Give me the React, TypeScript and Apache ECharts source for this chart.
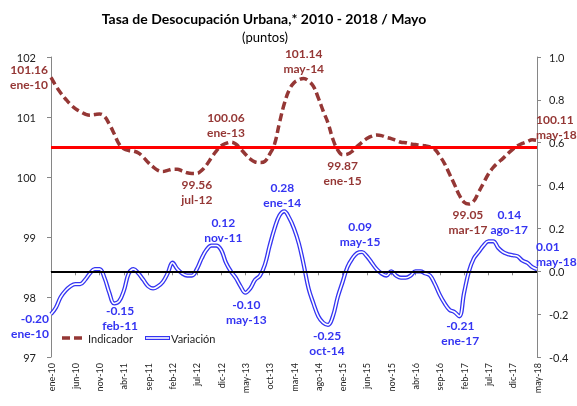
import React, { useEffect, useRef } from 'react';
import * as echarts from 'echarts';

const MONTHS = ['ene', 'feb', 'mar', 'abr', 'may', 'jun', 'jul', 'ago', 'sep', 'oct', 'nov', 'dic'];
const categories: string[] = [];
for (let y = 10; y <= 18; y++) {
  for (let m = 0; m < 12; m++) {
    if (y === 18 && m > 4) break;
    categories.push(`${MONTHS[m]}-${y}`);
  }
}

const indicador = [
  101.16, 101.02, 100.9, 100.8, 100.71, 100.64, 100.59, 100.55, 100.53, 100.54,
  100.55, 100.51, 100.38, 100.22, 100.05, 99.97, 99.94, 99.93, 99.9, 99.83,
  99.74, 99.67, 99.61, 99.59, 99.61, 99.63, 99.63, 99.6, 99.57, 99.56,
  99.56, 99.61, 99.7, 99.82, 99.93, 100.02, 100.06, 100.08, 100.05, 99.97,
  99.88, 99.8, 99.75, 99.74, 99.76, 99.88, 100.05, 100.4, 100.72, 100.95,
  101.07, 101.12, 101.14, 101.1, 101.01, 100.82, 100.6, 100.4, 100.13, 99.95,
  99.87, 99.88, 99.93, 100.01, 100.08, 100.14, 100.18, 100.2, 100.19, 100.16,
  100.14, 100.11, 100.08, 100.07, 100.05, 100.04, 100.03, 100.02, 100.0, 99.96,
  99.85, 99.72, 99.55, 99.38, 99.2, 99.08, 99.05, 99.1, 99.25, 99.4,
  99.55, 99.66, 99.74, 99.81, 99.89, 99.96, 100.02, 100.06, 100.09, 100.12,
  100.11,
];

const variacion = [
  -0.2, -0.17, -0.12, -0.09, -0.07, -0.06, -0.06, -0.04, -0.01, 0.01,
  0.01, -0.03, -0.1, -0.15, -0.14, -0.09, -0.01, 0.01, -0.01, -0.04,
  -0.07, -0.08, -0.07, -0.05, -0.01, 0.04, 0.01, -0.01, -0.02, -0.02,
  0.01, 0.06, 0.1, 0.12, 0.12, 0.1, 0.04, 0.0, -0.03, -0.07,
  -0.1, -0.08, -0.04, -0.02, 0.03, 0.12, 0.2, 0.26, 0.28, 0.25,
  0.2, 0.13, 0.03, -0.08, -0.15, -0.21, -0.24, -0.25, -0.21, -0.12,
  -0.05, 0.02, 0.06, 0.085, 0.09, 0.07, 0.04, 0.01, -0.01, -0.02,
  0.0, -0.02, -0.03, -0.03, -0.02, 0.0, 0.0, -0.01, -0.02, -0.06,
  -0.11, -0.15, -0.18, -0.19, -0.21, -0.1, 0.0, 0.06, 0.09, 0.12,
  0.14, 0.14, 0.11, 0.09, 0.08, 0.075, 0.07, 0.05, 0.04, 0.02,
  0.01,
];

const referenceIndicador = 100;
const referenceVariacion = 0;

// annotated points: [category of the point, month text shown]
const indicadorNotes: [string, string][] = [
  ['ene-10', 'ene-10'],
  ['jul-12', 'jul-12'],
  ['ene-13', 'ene-13'],
  ['may-14', 'may-14'],
  ['ene-15', 'ene-15'],
  ['mar-17', 'mar-17'],
  ['may-18', 'may-18'],
];
const variacionNotes: [string, string][] = [
  ['ene-10', 'ene-10'],
  ['feb-11', 'feb-11'],
  ['nov-12', 'nov-11'],
  ['may-13', 'may-13'],
  ['ene-14', 'ene-14'],
  ['oct-14', 'oct-14'],
  ['may-15', 'may-15'],
  ['ene-17', 'ene-17'],
  ['ago-17', 'ago-17'],
  ['may-18', 'may-18'],
];

const FONT = 'Lato, "Noto Sans", sans-serif';
const RED = '#953735';
const BLUE = '#3434f2';

type Place = { position: string; distance: number; offset: [number, number] };
const indicadorPlace: Record<string, Place> = {
  'ene-10': { position: 'left', distance: 2, offset: [0, 0] },
  'jul-12': { position: 'bottom', distance: 3, offset: [0, 0] },
  'ene-13': { position: 'top', distance: 2, offset: [0, 0] },
  'may-14': { position: 'top', distance: 2, offset: [0, 0] },
  'ene-15': { position: 'bottom', distance: 2, offset: [0, 0] },
  'mar-17': { position: 'bottom', distance: 2, offset: [-1, 0] },
  'may-18': { position: 'right', distance: -2, offset: [0, -13] },
};
const variacionPlace: Record<string, Place> = {
  'ene-10': { position: 'left', distance: 1, offset: [0, 12] },
  'feb-11': { position: 'bottom', distance: 0, offset: [6, -1] },
  'nov-12': { position: 'top', distance: 0, offset: [7, 0] },
  'may-13': { position: 'bottom', distance: 3, offset: [1, 0] },
  'ene-14': { position: 'top', distance: 0, offset: [-2, 0] },
  'oct-14': { position: 'bottom', distance: 2, offset: [-1, 0] },
  'may-15': { position: 'top', distance: 2, offset: [-2, 0] },
  'ene-17': { position: 'bottom', distance: 1, offset: [1, 0] },
  'ago-17': { position: 'top', distance: 3, offset: [16, 0] },
  'may-18': { position: 'right', distance: -2, offset: [0, -15] },
};

function buildData(values: number[], notes: [string, string][], place: Record<string, Place>, color: string) {
  return values.map((v, i) => {
    const cat = categories[i];
    const note = notes.find((n) => n[0] === cat);
    if (!note) return v;
    const p = place[cat];
    return {
      value: v,
      label: {
        show: true,
        position: p.position,
        distance: p.distance,
        offset: p.offset,
        formatter: `${v.toFixed(2)}\n${note[1]}`,
        color,
        fontFamily: FONT,
        fontWeight: 'bold',
        fontSize: 12,
        lineHeight: 15,
        align: p.position === 'left' ? 'right' : p.position === 'right' ? 'left' : 'center',
      },
    };
  });
}

export default function App() {
  const ref = useRef<HTMLDivElement>(null);
  useEffect(() => {
    if (!ref.current) return;
    const chart = echarts.init(ref.current, undefined, { renderer: 'svg' });
    const axisGray = '#868686';
    chart.setOption({
      animation: false,
      grid: { left: 51, right: 40, top: 57, bottom: 49, containLabel: false },
      graphic: [
        {
          type: 'text', x: 264, y: 18,
          style: { text: 'Tasa de Desocupación Urbana,* 2010 - 2018 / Mayo', font: `bold 14px ${FONT}`, fill: '#000', textAlign: 'center', textVerticalAlign: 'middle' },
        },
        {
          type: 'text', x: 265, y: 37,
          style: { text: '(puntos)', font: `13px ${FONT}`, fill: '#000', textAlign: 'center', textVerticalAlign: 'middle' },
        },
        { type: 'line', shape: { x1: 62, y1: 338, x2: 86, y2: 338 }, style: { stroke: RED, lineWidth: 3.5, lineDash: [8, 4] }, z: 10 },
        { type: 'text', x: 88, y: 338, style: { text: 'Indicador', font: `11px ${FONT}`, fill: '#222', textVerticalAlign: 'middle' }, z: 10 },
        { type: 'line', shape: { x1: 145, y1: 338, x2: 170, y2: 338 }, style: { stroke: BLUE, lineWidth: 4 }, z: 10 },
        { type: 'line', shape: { x1: 146, y1: 338, x2: 169, y2: 338 }, style: { stroke: '#fff', lineWidth: 1.6 }, z: 11 },
        { type: 'text', x: 171, y: 338, style: { text: 'Variación', font: `11px ${FONT}`, fill: '#222', textVerticalAlign: 'middle' }, z: 10 },
      ],
      xAxis: {
        type: 'category',
        data: categories,
        boundaryGap: false,
        axisLine: { lineStyle: { color: axisGray, width: 1 } },
        axisTick: { show: true, interval: 4, length: 4, lineStyle: { color: axisGray } },
        axisLabel: { interval: 4, rotate: 90, fontSize: 9, fontFamily: FONT, color: '#222', margin: 6 },
        splitLine: { show: false },
      },
      yAxis: [
        {
          type: 'value', min: 97, max: 102, interval: 1, position: 'left',
          axisLine: { show: true, lineStyle: { color: axisGray } },
          axisTick: { show: true, length: 4, lineStyle: { color: axisGray } },
          axisLabel: { fontSize: 11, fontFamily: FONT, color: '#222', margin: 15 },
          splitLine: { show: false },
        },
        {
          type: 'value', min: -0.4, max: 1.0, interval: 0.2, position: 'right',
          axisLine: { show: true, lineStyle: { color: axisGray } },
          axisTick: { show: true, length: 4, lineStyle: { color: axisGray } },
          axisLabel: {
            fontSize: 11, fontFamily: FONT, color: '#222', margin: 12,
            formatter: (v: number) => (Math.abs(v) < 1e-9 ? '0.0' : v.toFixed(1)),
          },
          splitLine: { show: false },
        },
        { type: 'value', min: 96.5, max: 101.5, show: false },
      ],
      series: [
        {
          name: 'Indicador', type: 'line', yAxisIndex: 2, smooth: 0.4,
          data: buildData(indicador, indicadorNotes, indicadorPlace, RED),
          symbol: 'circle', symbolSize: 2, showAllSymbol: true,
          itemStyle: { color: 'rgba(0,0,0,0)', borderWidth: 0 },
          lineStyle: { color: RED, width: 3.5, type: [8, 4] },
          emphasis: { disabled: true },
          z: 2,
          markLine: {
            silent: true, symbol: ['none', 'none'], label: { show: false },
            lineStyle: { color: '#ff0000', width: 3, type: 'solid' },
            data: [{ yAxis: referenceIndicador }],
            z: 6,
          },
        },
        {
          name: 'Variación', type: 'line', yAxisIndex: 1, smooth: 0.4,
          data: buildData(variacion, variacionNotes, variacionPlace, BLUE),
          symbol: 'circle', symbolSize: 2, showAllSymbol: true,
          itemStyle: { color: 'rgba(0,0,0,0)', borderWidth: 0 },
          lineStyle: { color: BLUE, width: 4.2 },
          emphasis: { disabled: true },
          z: 3,
        },
        {
          name: 'VariaciónInner', type: 'line', yAxisIndex: 1, smooth: 0.4,
          data: variacion, symbol: 'none', silent: true,
          lineStyle: { color: '#ffffff', width: 1.6 },
          emphasis: { disabled: true },
          z: 4,
          markLine: {
            silent: true, symbol: ['none', 'none'], label: { show: false },
            lineStyle: { color: '#000', width: 2, type: 'solid' },
            data: [{ yAxis: referenceVariacion }],
            z: 6,
          },
        },
      ],
    });
    return () => chart.dispose();
  }, []);
  return <div ref={ref} style={{ position: 'fixed', left: 0, top: 0, width: 577, height: 406 }} />;
}
